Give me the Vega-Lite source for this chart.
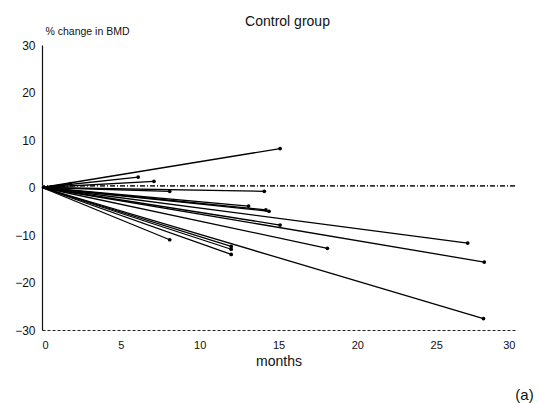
{
  "$schema": "https://vega.github.io/schema/vega-lite/v6.json",
  "width": 473,
  "height": 285,
  "autosize": {"type": "none"},
  "padding": {"left": 42, "top": 45, "right": 24, "bottom": 73},
  "background": "white",
  "title": {"text": "Control group", "fontSize": 14, "fontWeight": "normal", "font": "Liberation Sans", "color": "#111", "anchor": "middle", "dx": 9, "offset": -3},
  "config": {"view": {"stroke": null}, "font": "Liberation Sans"},
  "data": {"values": [
    {"id": 1, "months": 15.1, "change": 8.2},
    {"id": 2, "months": 6.1, "change": 2.2},
    {"id": 3, "months": 7.1, "change": 1.3},
    {"id": 4, "months": 8.1, "change": -0.8},
    {"id": 5, "months": 14.1, "change": -0.8},
    {"id": 6, "months": 13.1, "change": -3.9},
    {"id": 7, "months": 14.2, "change": -4.7},
    {"id": 8, "months": 14.4, "change": -5.0},
    {"id": 9, "months": 15.1, "change": -7.9},
    {"id": 10, "months": 27.0, "change": -11.7},
    {"id": 11, "months": 28.05, "change": -15.7},
    {"id": 12, "months": 18.1, "change": -12.8},
    {"id": 13, "months": 28.0, "change": -27.6},
    {"id": 14, "months": 8.1, "change": -11.0},
    {"id": 15, "months": 12.0, "change": -12.4},
    {"id": 16, "months": 12.0, "change": -13.0},
    {"id": 17, "months": 12.0, "change": -14.1},
    {"id": 18, "months": 1.8, "change": 0.8}
  ]},
  "layer": [
    {
      "mark": {"type": "rule", "strokeDash": [5, 2, 1, 2], "strokeWidth": 0.8, "color": "#333"},
      "encoding": {"y": {"datum": 0.4, "type": "quantitative", "scale": {"domain": [-30, 30]}}}
    },
    {
      "mark": {"type": "rule", "color": "black", "strokeWidth": 1.3},
      "encoding": {
        "x": {"field": "months", "type": "quantitative", "scale": {"domain": [0, 30]},
          "axis": {"values": [0, 5, 10, 15, 20, 25, 30], "tickSize": 0, "grid": false, "domainColor": "#222", "domainDash": [3, 2], "domainWidth": 1,
            "labelFontSize": 11, "labelColor": "#111", "labelPadding": 9, "labelFont": "Liberation Sans",
            "title": "months", "titleFontSize": 14, "titleFontWeight": "normal", "titleColor": "#111", "titlePadding": 4, "titleFont": "Liberation Sans"}},
        "y": {"field": "change", "type": "quantitative", "scale": {"domain": [-30, 30]},
          "axis": {"values": [-30, -20, -10, 0, 10, 20, 30], "tickSize": 0, "grid": false, "domainColor": "#111", "domainWidth": 1.2,
            "labelFontSize": 12, "labelColor": "#111", "labelPadding": 7, "labelFont": "Liberation Sans",
            "title": "% change in BMD", "titleAngle": 0, "titleAlign": "left", "titleBaseline": "bottom", "titleX": 3, "titleY": -9,
            "titleFontSize": 10.5, "titleFontWeight": "normal", "titleColor": "#111", "titleFont": "Liberation Sans"}},
        "x2": {"datum": 0},
        "y2": {"datum": 0}
      }
    },
    {
      "mark": {"type": "point", "filled": true, "color": "black", "size": 14, "opacity": 1},
      "encoding": {
        "x": {"field": "months", "type": "quantitative"},
        "y": {"field": "change", "type": "quantitative"}
      }
    },
    {
      "data": {"values": [{"label": "(a)", "months": 30.6, "change": -43.6}]},
      "mark": {"type": "text", "fontSize": 15, "font": "Liberation Sans", "color": "#111", "clip": false},
      "encoding": {
        "x": {"field": "months", "type": "quantitative"},
        "y": {"field": "change", "type": "quantitative"},
        "text": {"field": "label"}
      }
    }
  ]
}
